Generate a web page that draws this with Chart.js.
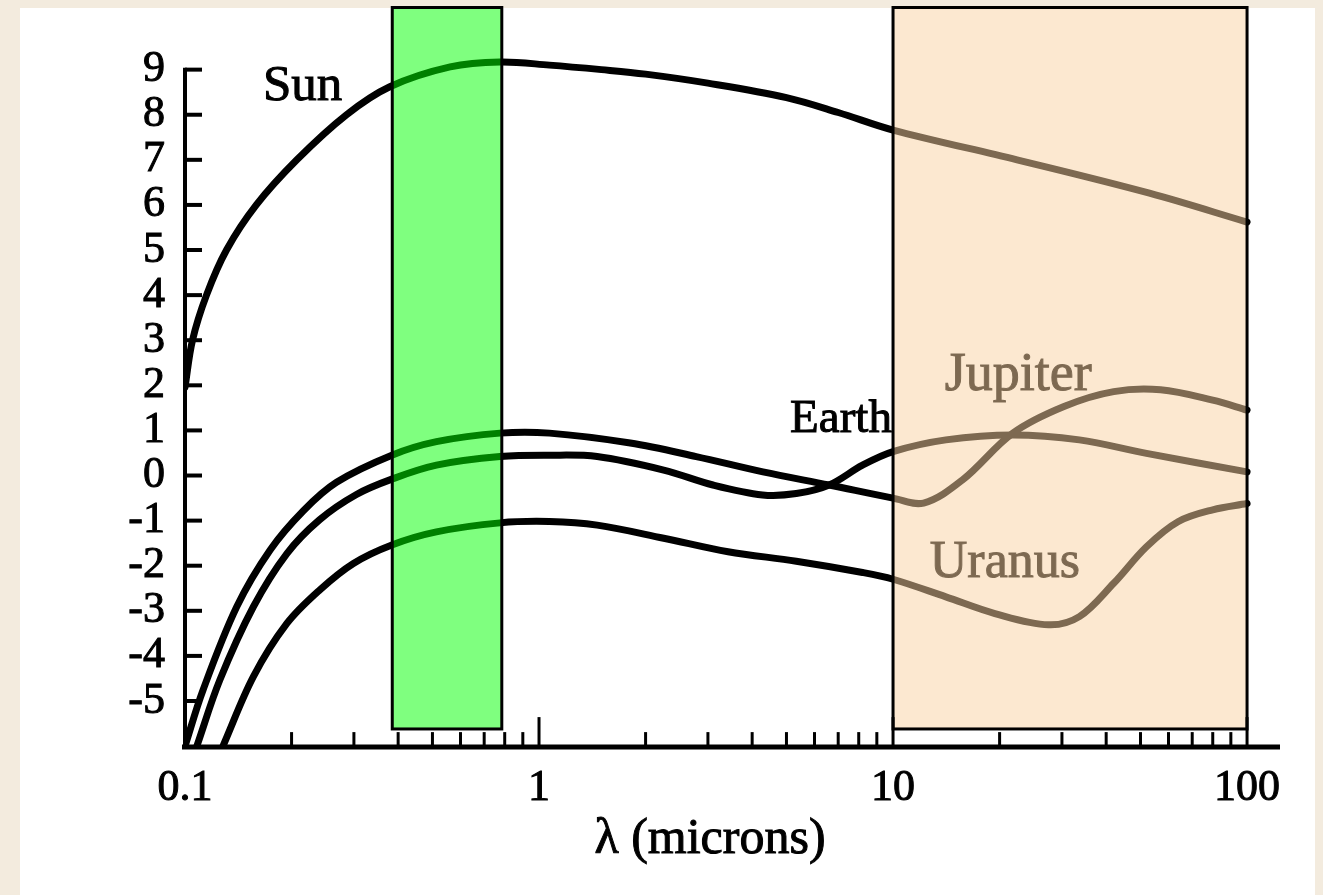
<!DOCTYPE html>
<html>
<head>
<meta charset="utf-8">
<script src="https://cdn.jsdelivr.net/npm/chart.js"></script>
<style>
  html, body { margin: 0; padding: 0; background: #f3ebde; }
  #panel { position: absolute; left: 20px; top: 8px; width: 1295px; height: 887px; background: #fff; }
  #wrap { position: absolute; left: 0; top: 0; width: 1323px; height: 895px; }
</style>
</head>
<body>
<div id="panel"></div>
<div id="wrap"><canvas id="myChart" width="1323" height="895"></canvas></div>
<script>
  // curves (x in microns, y in the plot's log units)
  const sunX = [0.1, 0.105, 0.115, 0.131, 0.159, 0.207, 0.286, 0.379, 0.561, 0.776, 1.07, 1.5, 2, 3, 5, 7, 10, 22.4, 53, 100];
  const sunY = [1.96, 3, 4, 5, 6, 7, 8, 8.62, 9.06, 9.17, 9.1, 9.0, 8.9, 8.7, 8.38, 8.05, 7.66, 7.0, 6.26, 5.62];

  const jupiterX = [0.1, 0.1124, 0.14, 0.174, 0.216, 0.268, 0.384, 0.513, 0.776, 1.07, 1.81, 2.78, 4.29, 6.6, 10, 12.2, 15.7, 21.8, 30.4, 42, 57, 80, 100];
  const jupiterY = [-6, -4.76, -2.91, -1.65, -0.78, -0.15, 0.45, 0.75, 0.94, 0.94, 0.72, 0.42, 0.08, -0.21, -0.5, -0.61, -0.1, 0.94, 1.53, 1.86, 1.9, 1.67, 1.45];

  const earthX = [0.108, 0.1255, 0.156, 0.194, 0.24, 0.305, 0.384, 0.513, 0.776, 1.07, 1.46, 2.25, 3.1, 4.28, 5.33, 6.6, 8.2, 10, 14.1, 21.8, 33.6, 52, 100];
  const earthY = [-6, -4.53, -2.91, -1.73, -0.98, -0.42, -0.08, 0.23, 0.42, 0.45, 0.42, 0.12, -0.21, -0.43, -0.4, -0.21, 0.23, 0.53, 0.79, 0.9, 0.79, 0.49, 0.08];

  const uranusX = [0.128, 0.156, 0.194, 0.24, 0.299, 0.384, 0.513, 0.776, 1.07, 1.46, 2.25, 3.42, 5.33, 8.2, 10, 14.1, 19.4, 27.5, 33.6, 42, 52, 64, 80, 100];
  const uranusY = [-6, -4.46, -3.28, -2.54, -1.95, -1.54, -1.25, -1.05, -1.02, -1.1, -1.39, -1.69, -1.9, -2.15, -2.3, -2.69, -3.06, -3.31, -3.13, -2.39, -1.58, -1.02, -0.76, -0.62];

  // labels next to the curves
  const labelText = ["Sun", "Earth", "Jupiter", "Uranus"];
  const labelX = [0.166, 5.12, 14.0, 12.7];
  const labelY = [8.33, 0.96, 1.9, -2.25];

  // shaded wavelength bands
  const bandLo = [0.385, 10];
  const bandHi = [0.785, 100];
  const bandBottom = -5.62;

  // ticks
  const yTickValues = [-5, -4, -3, -2, -1, 0, 1, 2, 3, 4, 5, 6, 7, 8, 9];
  const xTickValues = [0.1, 1, 10, 100];
  const xMinorTicks = [0.2, 0.3, 0.4, 0.5, 0.6, 0.7, 0.8, 0.9, 2, 3, 4, 5, 6, 7, 8, 9, 20, 30, 40, 50, 60, 70, 80, 90];

  const toPts = (xs, ys) => xs.map((x, i) => ({ x: x, y: ys[i] }));

  const curve = (label, xs, ys) => ({
    label: label,
    data: toPts(xs, ys),
    borderColor: 'black',
    borderWidth: 7,
    pointRadius: 0,
    fill: false,
    tension: 0.35,
    borderCapStyle: 'round',
    borderJoinStyle: 'round'
  });

  const serif = '"Liberation Serif", "Times New Roman", serif';
  const tickFont = { family: serif, size: 44 };
  const labelSizes = [51, 47, 54, 52];

  const overlay = {
    id: 'overlay',
    afterDatasetsDraw(chart) {
      const ctx = chart.ctx;
      const xs = chart.scales.x, ys = chart.scales.y;
      const line = (x1, y1, x2, y2) => { ctx.beginPath(); ctx.moveTo(x1, y1); ctx.lineTo(x2, y2); ctx.stroke(); };
      ctx.save();

      // curve labels
      ctx.fillStyle = 'black';
      ctx.strokeStyle = 'black';
      ctx.lineWidth = 1;
      ctx.textAlign = 'left';
      ctx.textBaseline = 'alphabetic';
      labelText.forEach((t, i) => {
        ctx.font = labelSizes[i] + 'px ' + serif;
        const px = xs.getPixelForValue(labelX[i]), py = ys.getPixelForValue(labelY[i]);
        ctx.fillText(t, px, py);
        ctx.strokeText(t, px, py);
      });

      // translucent bands on top of the curves
      const colors = ['rgba(0, 255, 0, 0.5)', 'rgba(250, 210, 162, 0.5)'];
      bandLo.forEach((lo, i) => {
        const l = xs.getPixelForValue(lo), r = xs.getPixelForValue(bandHi[i]);
        const t = chart.chartArea.top + 1, b = ys.getPixelForValue(bandBottom);
        ctx.fillStyle = colors[i];
        ctx.fillRect(l, t, r - l, b - t);
        ctx.lineWidth = 3;
        ctx.strokeStyle = 'black';
        ctx.strokeRect(l, t, r - l, b - t);
      });

      // axes
      const x0 = xs.getPixelForValue(0.1);
      const yb = ys.getPixelForValue(-6) + 1;
      ctx.strokeStyle = 'black';
      ctx.lineWidth = 4;
      line(x0, yb, x0, ys.getPixelForValue(9) - 2);
      yTickValues.forEach(v => {
        const y = ys.getPixelForValue(v);
        line(x0, y, x0 + 17, y);
      });
      ctx.lineWidth = 5;
      line(x0 - 3, yb, xs.right, yb);
      ctx.lineWidth = 3;
      xMinorTicks.forEach(v => {
        const x = xs.getPixelForValue(v);
        line(x, yb, x, yb - 15);
      });
      xTickValues.slice(1).forEach(v => {
        const x = xs.getPixelForValue(v);
        line(x, yb, x, yb - 30);
      });

      // axis title
      ctx.fillStyle = 'black';
      ctx.lineWidth = 1;
      ctx.font = '50px ' + serif;
      ctx.textAlign = 'center';
      ctx.fillText('\u03bb (microns)', 710, 853);
      ctx.strokeText('\u03bb (microns)', 710, 853);
      ctx.restore();
    }
  };

  const config = {
    type: 'line',
    data: {
      datasets: [
        curve('Sun', sunX, sunY),
        curve('Jupiter', jupiterX, jupiterY),
        curve('Earth', earthX, earthY),
        curve('Uranus', uranusX, uranusY)
      ]
    },
    options: {
      responsive: false,
      animation: false,
      layout: { padding: { top: 6.5, right: 43, left: 0, bottom: 0 } },
      plugins: { legend: { display: false }, tooltip: { enabled: false } },
      scales: {
        x: {
          type: 'logarithmic',
          min: 0.1,
          max: 123.9,
          grid: { display: false, drawTicks: false },
          border: { display: false },
          afterBuildTicks: s => { s.ticks = xTickValues.map(v => ({ value: v })); },
          afterFit: s => { s.height = 895 - 746.1; s.paddingLeft = 0; s.paddingRight = 0; },
          ticks: {
            autoSkip: false,
            maxRotation: 0,
            color: 'black',
            font: tickFont,
            textStrokeColor: 'black',
            textStrokeWidth: 1,
            padding: 16,
            callback: v => String(v)
          }
        },
        y: {
          type: 'linear',
          min: -6,
          max: 10.4,
          grid: { display: false, drawTicks: false },
          border: { display: false },
          afterBuildTicks: s => { s.ticks = yTickValues.map(v => ({ value: v })); },
          afterFit: s => { s.width = 185; s.paddingTop = 0; s.paddingBottom = 0; },
          ticks: {
            autoSkip: false,
            color: 'black',
            font: tickFont,
            textStrokeColor: 'black',
            textStrokeWidth: 1,
            padding: 20,
            callback: v => String(v)
          }
        }
      }
    },
    plugins: [overlay]
  };

  const myChart = new Chart(document.getElementById('myChart'), config);
</script>
</body>
</html>
